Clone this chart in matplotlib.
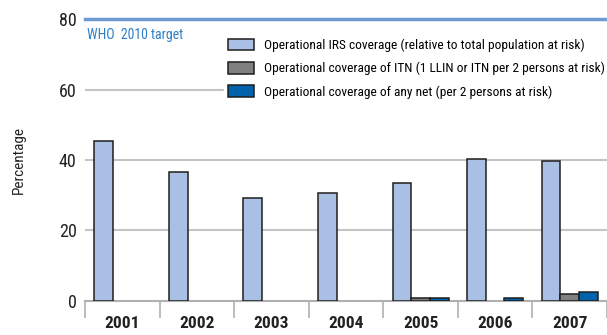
import matplotlib
matplotlib.use("Agg")
import matplotlib.pyplot as plt
import numpy as np

plt.rcParams['font.family'] = ['Roboto Condensed', 'IBM Plex Sans Condensed', 'DejaVu Sans']

years = ['2001', '2002', '2003', '2004', '2005', '2006', '2007']
irs = [45.5, 36.5, 29.2, 30.6, 33.6, 40.3, 39.6]
itn = [np.nan, np.nan, np.nan, np.nan, 0.8, np.nan, 1.8]
anynet = [np.nan, np.nan, np.nan, np.nan, 0.8, 0.9, 2.5]
labels = ['Operational IRS coverage (relative to total population at risk)',
          'Operational coverage of ITN (1 LLIN or ITN per 2 persons at risk)',
          'Operational coverage of any net (per 2 persons at risk)']
target = 80

fig = plt.figure(figsize=(6.07, 3.35), dpi=100)
ax = fig.add_axes([0.14, 0.102, 0.86, 0.841])

x = np.arange(len(years))
w = 0.25
ax.bar(x - w, irs, w, color='#a9bfe4', edgecolor='#1e1e1e', linewidth=1.1, label=labels[0], zorder=3)
ax.bar(x, itn, w, color='#808080', edgecolor='#1e1e1e', linewidth=1.1, label=labels[1], zorder=3)
ax.bar(x + w, anynet, w, color='#0062aa', edgecolor='#1e1e1e', linewidth=1.1, label=labels[2], zorder=3)

# gridlines
for v in [20, 40, 60]:
    ax.axhline(v, color='#c4c4c4', lw=1.5, zorder=1)
ax.axhline(target, color='#6f9bd4', lw=2.5, zorder=2, clip_on=False)
ax.text(-0.47, 75.4, 'WHO  2010 target', color='#2f7fc4', fontsize=10, va='center', ha='left')

ax.set_xlim(-0.5, len(years) - 0.5)
ax.set_ylim(0, 80)
ax.set_yticks([0, 20, 40, 60, 80])
ax.tick_params(axis='y', length=0, labelsize=13, pad=6, colors='#222222')
ax.set_xticks(x)
ax.set_xticklabels(years, fontsize=12.5, fontweight='bold')
ax.tick_params(axis='x', which='major', length=0, pad=11, colors='#222222')
ax.set_xticks(np.arange(-0.5, len(years)), minor=True)
ax.tick_params(axis='x', which='minor', length=12, width=1.2, color='#b0b0b0', direction='out')
for s in ['top', 'right', 'left']:
    ax.spines[s].set_visible(False)
ax.spines['bottom'].set_color('#b0b0b0')
ax.spines['bottom'].set_linewidth(1.5)
ax.set_ylabel('Percentage', fontsize=11, labelpad=24, color='#222222')

leg = ax.legend(loc='upper right', bbox_to_anchor=(1.003, 0.945), fontsize=9.6, frameon=True,
                handlelength=1.95, handleheight=0.98, handletextpad=0.7, labelspacing=0.75,
                borderpad=0.3, borderaxespad=0)
leg.get_frame().set_facecolor('white')
leg.get_frame().set_edgecolor('white')
leg.get_frame().set_alpha(1)
leg.set_zorder(5)

plt.savefig('out.png', dpi=100)
plt.close()
